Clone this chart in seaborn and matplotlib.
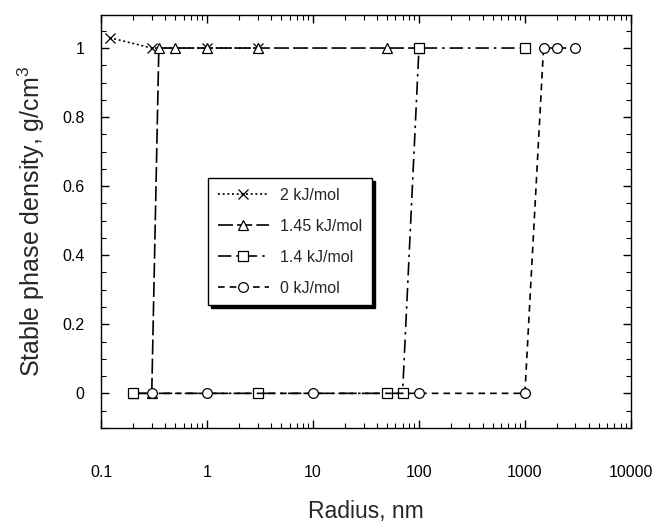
import matplotlib
matplotlib.use("Agg")
import matplotlib.pyplot as plt
import matplotlib.ticker as mticker
import seaborn as sns
import pandas as pd

# Data
x_2kj = [0.12, 0.3, 1, 3]
y_2kj = [1.03, 1.0, 1.0, 1.0]

x_145kj = [0.2, 0.3, 0.35, 0.5, 1, 3, 50, 100]
y_145kj = [0, 0, 1, 1, 1, 1, 1, 1]

x_14kj = [0.2, 3, 50, 70, 100, 1000]
y_14kj = [0, 0, 0, 0, 1, 1]

x_0kj = [0.3, 1, 10, 100, 1000, 1500, 2000, 3000]
y_0kj = [0, 0, 0, 0, 0, 1, 1, 1]

labels = ["2 kJ/mol", "1.45 kJ/mol", "1.4 kJ/mol", "0 kJ/mol"]
x_ticks = [0.1, 1, 10, 100, 1000, 10000]
y_ticks = [0, 0.2, 0.4, 0.6, 0.8, 1]

series = [
    (x_2kj, y_2kj, "x", (1.2, 1.6)),
    (x_145kj, y_145kj, "^", (9, 2.5)),
    (x_14kj, y_14kj, "s", (8, 3, 1.5, 3)),
    (x_0kj, y_0kj, "o", (4, 3)),
]

sns.set_style("ticks")
plt.rcParams['font.family'] = ['Liberation Sans', 'DejaVu Sans']
plt.rcParams['mathtext.default'] = 'regular'

fig = plt.figure(figsize=(6.53, 5.25), dpi=100)
ax = fig.add_axes([0.155, 0.185, 0.811, 0.786])

for (xs, ys, mk, dash), lab in zip(series, labels):
    df = pd.DataFrame({"r": xs, "d": ys})
    sns.lineplot(data=df, x="r", y="d", ax=ax, color="black", marker=mk,
                 estimator=None, sort=False, label=lab, linewidth=1.2,
                 markersize=7)
    line = ax.lines[-1]
    line.set_dashes(dash)
    line.set_markerfacecolor("white")
    line.set_markeredgecolor("black")
    line.set_markeredgewidth(0.9)

ax.set_xscale("log")
ax.set_xlim(0.1, 10000)
ax.set_ylim(-0.1, 1.095)
ax.set_xticks(x_ticks)
ax.set_yticks(y_ticks)
ax.xaxis.set_major_formatter(mticker.FuncFormatter(lambda v, p: "%g" % v))
ax.yaxis.set_major_formatter(mticker.FuncFormatter(lambda v, p: "%g" % v))
ax.yaxis.set_minor_locator(mticker.MultipleLocator(0.05))
ax.xaxis.set_minor_locator(mticker.LogLocator(base=10, subs=range(2, 10)))
ax.xaxis.set_minor_formatter(mticker.NullFormatter())

ax.tick_params(which="both", direction="in", top=True, right=True,
               colors="black", labelsize=11.5)
ax.tick_params(which="major", length=6, width=1)
ax.tick_params(which="minor", length=3.5, width=0.8)
ax.tick_params(axis="x", which="major", pad=27)
ax.tick_params(axis="y", which="major", pad=12)
for s in ax.spines.values():
    s.set_linewidth(1)
    s.set_color("black")

ax.set_xlabel("Radius, nm", fontsize=16.5, labelpad=14)
ax.set_ylabel("Stable phase density, g/cm$^3$", fontsize=18, labelpad=11)

leg = ax.legend(loc="upper left", bbox_to_anchor=(0.202, 0.605), fontsize=11.5,
                frameon=True, fancybox=False, edgecolor="black",
                borderaxespad=0, handlelength=3.2, handletextpad=0.7,
                labelspacing=1.0, borderpad=0.6,
                shadow={"color": "black", "alpha": 1})
leg.get_frame().set_linewidth(1)

fig.savefig("out.png", dpi=100)
